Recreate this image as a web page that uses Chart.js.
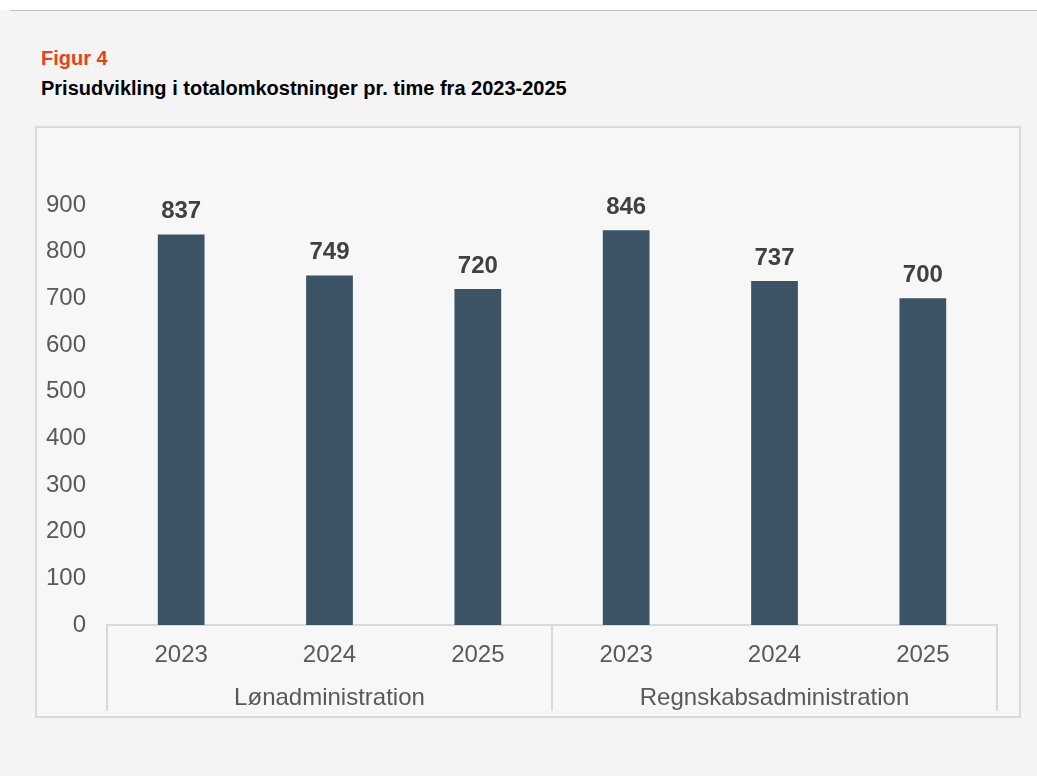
<!DOCTYPE html>
<html>
<head>
<meta charset="utf-8">
<script src="https://cdn.jsdelivr.net/npm/chart.js@4.4.0/dist/chart.umd.min.js"></script>
<style>
  html, body { margin: 0; padding: 0; }
  body { width: 1037px; height: 776px; background: #f4f4f4; position: relative; overflow: hidden;
         font-family: "Liberation Sans", Arial, sans-serif; }
  #topwhite { position: absolute; left: 0; top: 0; width: 1037px; height: 10px; background: #ffffff; }
  #topline { position: absolute; left: 10px; top: 10px; width: 1027px; height: 1px; background: #c0c0c0; }
  #fig { position: absolute; left: 41px; top: 46px; font-size: 20px; font-weight: bold; color: #e2441b; line-height: 24px; }
  #title { position: absolute; left: 41px; top: 76px; font-size: 20px; font-weight: bold; color: #000; line-height: 24px; }
  #box { position: absolute; left: 35px; top: 126px; width: 986px; height: 592px; box-sizing: border-box;
         border: 2px solid #d9d9d9; background: #f7f7f7; }
  #c { position: absolute; left: 0; top: 0; }
</style>
</head>
<body>
<div id="topwhite"></div>
<div id="topline"></div>
<div id="fig">Figur 4</div>
<div id="title">Prisudvikling i totalomkostninger pr. time fra 2023-2025</div>
<div id="box"><canvas id="c" width="982" height="588"></canvas></div>
<script>
const years = ["2023", "2024", "2025", "2023", "2024", "2025"];
const groups = ["Lønadministration", "Regnskabsadministration"];
const groupSizes = [3, 3];
const values = [837, 749, 720, 846, 737, 700];
const yTicks = [0, 100, 200, 300, 400, 500, 600, 700, 800, 900];

const FONT = '"Liberation Sans", Arial, sans-serif';

const extras = {
  id: 'extras',
  afterDatasetsDraw(chart) {
    const ctx = chart.ctx;
    const meta = chart.getDatasetMeta(0);
    ctx.save();
    ctx.font = 'bold 24px ' + FONT;
    ctx.fillStyle = '#404040';
    ctx.textAlign = 'center';
    ctx.textBaseline = 'alphabetic';
    meta.data.forEach((bar, i) => {
      ctx.fillText(String(values[i]), bar.x, bar.y - 16);
    });
    ctx.restore();
  },
  afterDraw(chart) {
    const ctx = chart.ctx;
    const xs = chart.scales.x;
    const area = chart.chartArea;
    const step = xs.getPixelForValue(1) - xs.getPixelForValue(0);
    ctx.save();
    ctx.strokeStyle = '#d9d9d9';
    ctx.lineWidth = 2;
    let idx = 0;
    const bounds = [xs.getPixelForValue(0) - step / 2];
    const centers = [];
    groupSizes.forEach(n => {
      const first = xs.getPixelForValue(idx);
      const last = xs.getPixelForValue(idx + n - 1);
      centers.push((first + last) / 2);
      idx += n;
      bounds.push(last + step / 2);
    });
    bounds.forEach(b => {
      ctx.beginPath();
      ctx.moveTo(b, area.bottom);
      ctx.lineTo(b, area.bottom + 86);
      ctx.stroke();
    });
    ctx.font = '24px ' + FONT;
    ctx.fillStyle = '#595959';
    ctx.textAlign = 'center';
    ctx.textBaseline = 'alphabetic';
    groups.forEach((g, i) => ctx.fillText(g, centers[i], area.bottom + 80));
    ctx.restore();
  }
};

new Chart(document.getElementById('c'), {
  type: 'bar',
  data: {
    labels: years,
    datasets: [{
      data: values,
      backgroundColor: '#3b5364',
      borderWidth: 0,
      categoryPercentage: 1,
      barPercentage: 0.315
    }]
  },
  options: {
    responsive: false,
    devicePixelRatio: 1,
    animation: false,
    layout: { padding: { top: 77, right: 22, left: 0, bottom: 0 } },
    plugins: { legend: { display: false }, tooltip: { enabled: false }, title: { display: false } },
    scales: {
      x: {
        grid: { display: false },
        border: { display: true, color: '#d9d9d9', width: 2 },
        ticks: { color: '#595959', font: { family: FONT, size: 24 }, padding: 8, maxRotation: 0, autoSkip: false },
        afterFit(scale) { scale.height = 91; }
      },
      y: {
        min: 0, max: 900,
        afterBuildTicks(scale) { scale.ticks = yTicks.map(v => ({ value: v })); },
        grid: { display: false },
        border: { display: false },
        ticks: { color: '#595959', font: { family: FONT, size: 24 }, padding: 13 },
        afterFit(scale) { scale.width = 70; }
      }
    }
  },
  plugins: [extras]
});
</script>
</body>
</html>
